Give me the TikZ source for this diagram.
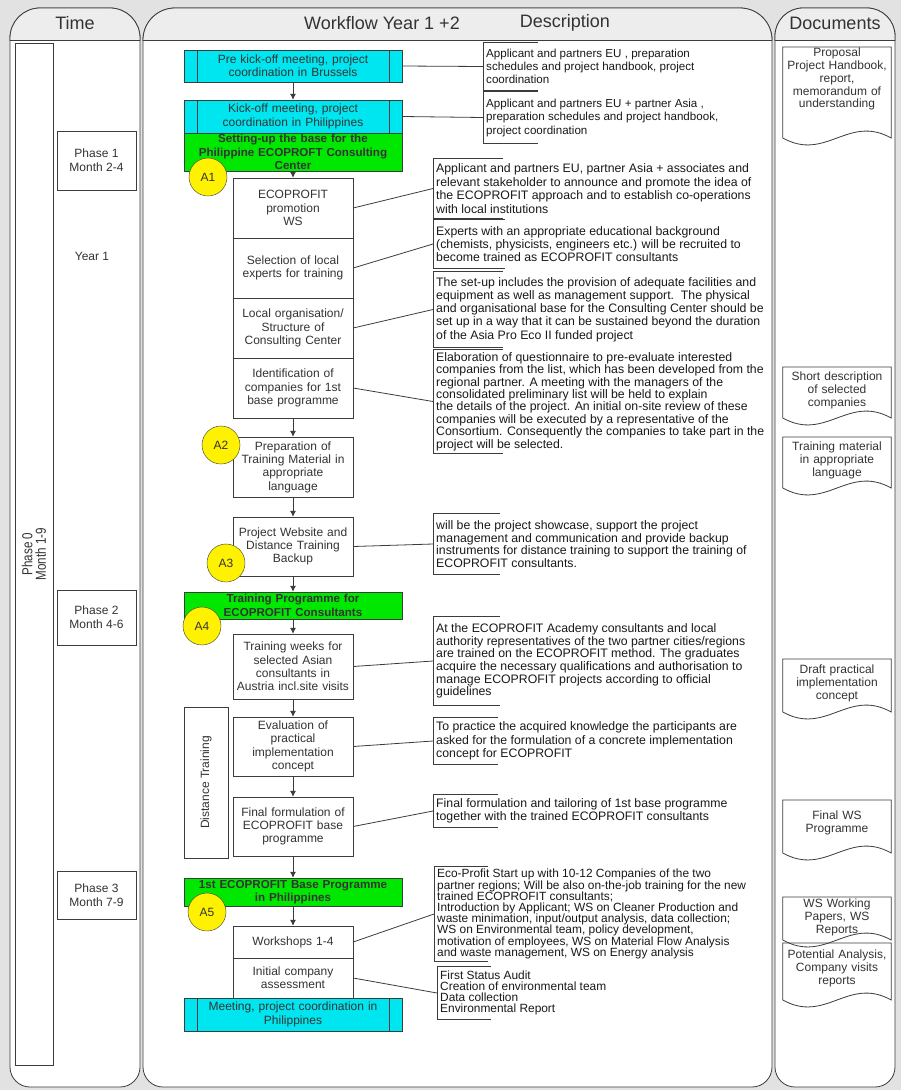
\documentclass[tikz,border=0pt]{standalone}
\usepackage{fontspec}
\setmainfont{Liberation Sans}
\newfontfamily\narrowfont[FakeStretch=0.8]{Liberation Sans}
\usetikzlibrary{positioning,arrows.meta}
\definecolor{proccyan}{RGB}{0,230,240}
\definecolor{stepgreen}{RGB}{0,232,0}
\definecolor{markyellow}{RGB}{255,242,0}
\definecolor{linegray}{RGB}{60,60,60}
\definecolor{paper}{RGB}{226,226,226}

\begin{document}
\begin{tikzpicture}[x=1pt, y=-1pt,
  every node/.style={font=\fontsize{12}{13.3}\selectfont, text=black!80},
  lane/.style={draw=linegray, line width=0.8pt},
  stepbox/.style={draw=linegray, fill=white, minimum width=120pt, inner sep=0pt, align=center, text width=118pt},
  procbox/.style={draw=linegray, fill=proccyan, minimum width=218pt, inner sep=0pt, align=center, text width=185pt},
  greenbox/.style={draw=linegray, fill=stepgreen, minimum width=218pt, inner sep=0pt, align=center, text width=215pt, font=\fontsize{11.6}{13.5}\selectfont\bfseries},
  phasebox/.style={draw=linegray, fill=white, minimum width=79pt, align=center, font=\fontsize{12}{14}\selectfont},
  marker/.style={circle, draw=linegray, fill=markyellow, minimum size=38pt, inner sep=0pt},
  desc/.style={anchor=west, align=left, inner xsep=3pt, inner ysep=0pt, text=black!90, font=\fontsize{12.3}{#1}\selectfont},
  desc/.default=13.3,
  docbox/.style={minimum width=108pt, text width=104pt, align=center, inner sep=2pt, font=\fontsize{12}{12.9}\selectfont},
  flow/.style={draw=linegray, line width=0.8pt, -{Latex[length=6pt,width=6pt]}},
  link/.style={draw=linegray, line width=0.8pt},
  brk/.style={draw=linegray, line width=0.8pt}
]
\useasboundingbox (0,0) rectangle (901,1090);
\fill[paper] (0,0) rectangle (901,1090);

% Swim lanes with header band
\foreach \xa/\xb/\r in {10/140/30, 143/772/32, 775/895/28} {
  \draw[lane, fill=white] (\xa,500) [rounded corners=\r pt] -- (\xa,8) -- (\xb,8) -- (\xb,500) [rounded corners=20pt] -- (\xb,1087) -- (\xa,1087) -- cycle;
  \begin{scope}
    \clip (\xa-2,0) rectangle (\xb+2,40);
    \draw[lane, fill=gray!14] (\xa,500) [rounded corners=\r pt] -- (\xa,8) -- (\xb,8) -- (\xb,500) -- cycle;
  \end{scope}
  \draw[lane] (\xa,40) -- (\xb,40);
}
\node[font=\fontsize{18}{20}\selectfont] (hTime) at (75,23) {Time};
\node[font=\fontsize{18}{20}\selectfont] (hFlow) at (382,23) {Workflow Year 1 +2};
\node[font=\fontsize{18}{20}\selectfont] (hDesc) at (565,23) {Description};
\node[font=\fontsize{18}{20}\selectfont] (hDocs) at (835,23) {Documents};

% Time column
\node[draw=linegray, fill=white, rotate=90, minimum width=1022pt, minimum height=38pt, align=center, font=\narrowfont\fontsize{14.5}{13.5}\selectfont] (ph0) at (34,554) {Phase 0\\Month 1-9};
\node[phasebox, minimum height=59pt] (ph1) at (96.5,160.5) {Phase 1\\Month 2-4};
\node (year) at (92,256) {Year 1};
\node[phasebox, minimum height=55pt] (ph2) at (96.5,617.5) {Phase 2\\Month 4-6};
\node[phasebox, minimum height=48pt] (ph3) at (96.5,895) {Phase 3\\Month 7-9};

% Workflow steps
\node[procbox, minimum height=32pt] (pre) at (293,66) {Pre kick-off meeting, project\\coordination in Brussels};
\node[procbox, minimum height=33pt] (kick) at (293,116.5) {Kick-off meeting, project\\coordination in Philippines};
\node[greenbox, minimum height=38pt] (setup) at (293,152) {Setting-up the base for the\\Philippine ECOPROFT Consulting\\Center};
\node[stepbox, minimum height=60pt] (promo) at (293,208) {ECOPROFIT\\promotion\\WS};
\node[stepbox, minimum height=60pt] (select) at (293,268) {Selection of local\\experts for training};
\node[stepbox, minimum height=60pt] (local) at (293,328) {Local organisation/\\Structure of\\Consulting Center};
\node[stepbox, minimum height=60pt] (ident) at (293,388) {Identification of\\companies for 1st\\base programme};
\node[stepbox, minimum height=60pt] (prep) at (293,467) {Preparation of\\Training Material in\\appropriate\\language};
\node[stepbox, minimum height=59pt] (web) at (293,546.5) {Project Website and\\Distance Training\\Backup};
\node[greenbox, minimum height=27pt] (train) at (293,605.5) {Training Programme for\\ECOPROFIT Consultants};
\node[stepbox, minimum height=65pt] (weeks) at (293,666.5) {Training weeks for\\selected Asian\\consultants in\\Austria incl.site visits};
\node[stepbox, minimum height=59pt] (eval) at (293,746.5) {Evaluation of\\practical\\implementation\\concept};
\node[stepbox, minimum height=59pt] (final) at (293,826.5) {Final formulation of\\ECOPROFIT base\\programme};
\node[greenbox, minimum height=28pt] (base) at (293,892) {1st ECOPROFIT Base Programme\\in Philippines};
\node[stepbox, minimum height=32pt] (ws) at (293,942) {Workshops 1-4};
\node[stepbox, minimum height=40pt] (assess) at (293,978) {Initial company\\assessment};
\node[procbox, minimum height=33pt] (meet) at (293,1014.5) {Meeting, project coordination in\\Philippines};
\node[draw=linegray, fill=white, rotate=90, minimum width=151pt, minimum height=44pt] (dist) at (206,782.5) {Distance Training};
% inner bars of the meeting boxes
\foreach \n in {pre,kick,meet} {
  \draw[brk] ([xshift=14pt]\n.north west) -- ([xshift=14pt]\n.south west);
  \draw[brk] ([xshift=-13pt]\n.north east) -- ([xshift=-13pt]\n.south east);
}

% Descriptions
\node[desc=13, minimum height=47pt, font=\fontsize{11.6}{13}\selectfont] (d1) at (483,66.5) {Applicant and partners EU , preparation\\schedules and project handbook, project\\coordination};
\node[desc=13.5, minimum height=51pt, font=\fontsize{11.6}{13.5}\selectfont] (d2) at (483,117.5) {Applicant and partners EU + partner Asia ,\\preparation schedules and project handbook,\\project coordination};
\node[desc=13.5, minimum height=59pt] (d3) at (433,188.5) {Applicant and partners EU, partner Asia + associates and\\relevant stakeholder to announce and promote the idea of\\the ECOPROFIT approach and to establish co-operations\\with local institutions};
\node[desc, minimum height=48pt] (d4) at (433,244) {Experts with an appropriate educational background\\(chemists, physicists, engineers etc.) will be recruited to\\become trained as ECOPROFIT consultants};
\node[desc, minimum height=75pt] (d5) at (433,309.5) {The set-up includes the provision of adequate facilities and\\equipment as well as management support.\ \ The physical\\and organisational base for the Consulting Center should be\\set up in a way that it can be sustained beyond the duration\\of the Asia Pro Eco II funded project};
\node[desc=12.4, minimum height=103pt] (d6) at (433,401.5) {Elaboration of questionnaire to pre-evaluate interested\\companies from the list, which has been developed from the\\regional partner. A meeting with the managers of the\\consolidated preliminary list will be held to explain\\the details of the project. An initial on-site review of these\\companies will be executed by a representative of the\\Consortium. Consequently the companies to take part in the\\project will be selected.};
\node[desc=12.4, minimum height=60pt] (d7) at (433,544) {will be the project showcase, support the project\\management and communication and provide backup\\instruments for distance training to support the training of\\ECOPROFIT consultants.};
\node[desc=12.7, minimum height=88pt] (d8) at (433,661) {At the ECOPROFIT Academy consultants and local\\authority representatives of the two partner cities/regions\\are trained on the ECOPROFIT method. The graduates\\acquire the necessary qualifications and authorisation to\\manage ECOPROFIT projects according to official\\guidelines};
\node[desc=13.8, minimum height=46pt] (d9) at (433,741) {To practice the acquired knowledge the participants are\\asked for the formulation of a concrete implementation\\concept for ECOPROFIT};
\node[desc, minimum height=32pt] (d10) at (433,811) {Final formulation and tailoring of 1st base programme\\together with the trained ECOPROFIT consultants};
\node[desc, minimum height=94pt, font=\fontsize{11.9}{11.2}\selectfont] (d11) at (434,914) {Eco-Profit Start up with 10-12 Companies of the two\\partner regions; Will be also on-the-job training for the new\\trained ECOPROFIT consultants;\\Introduction by Applicant; WS on Cleaner Production and\\waste minimation, input/output analysis, data collection;\\WS on Environmental team, policy development,\\motivation of employees, WS on Material Flow Analysis\\and waste management, WS on Energy analysis};
\node[desc, minimum height=52pt, font=\fontsize{11.9}{11.2}\selectfont] (d12) at (437,993) {First Status Audit\\Creation of environmental team\\Data collection\\Environmental Report};
\foreach \n/\l in {d1/55, d2/55, d3/70, d4/72, d5/70, d6/70, d7/67, d8/67, d9/65, d10/65, d11/54, d12/54} {
  \draw[brk] ([xshift=\l pt]\n.north west) -- (\n.north west) -- (\n.south west) -- ([xshift=\l pt]\n.south west);
}

% Documents
\node[docbox] (doc1) at (837,79) {Proposal\\Project Handbook,\\report,\\memorandum of\\understanding};
\node[docbox] (doc2) at (837,390) {Short description\\of selected\\companies};
\node[docbox] (doc3) at (837,460) {Training material\\in appropriate\\language};
\node[docbox] (doc4) at (837,683) {Draft practical\\implementation\\concept};
\node[docbox] (doc5) at (837,823) {Final WS\\Programme};
\node[docbox] (doc6) at (837,917) {WS Working\\Papers, WS\\Reports};
\node[docbox] (doc7) at (837,968) {Potential Analysis,\\Company visits\\reports};
\foreach \n/\t/\b in {doc1/47/138, doc2/367/418, doc3/437/488, doc4/659/712, doc5/800/853, doc6/897/940, doc7/943/1000} {
  \draw[brk] (\n.west |- 0,\b) -- (\n.west |- 0,\t) -- (\n.east |- 0,\t) -- (\n.east |- 0,\b) .. controls +(-43pt,24pt) and +(43pt,-24pt) .. (\n.west |- 0,\b);
}

% Flow arrows and description links
\foreach \a/\b in {pre/kick, setup/promo, ident/prep, prep/web, web/train, train/weeks, weeks/eval, eval/final, final/base, base/ws}
  \draw[flow] (\a) -- (\b);
\foreach \a/\b in {pre/d1, kick/d2, promo/d3, select/d4, local/d5, ident/d6, web/d7, weeks/d8, eval/d9, final/d10, ws/d11, assess/d12}
  \draw[link] (\a.east) -- (\b.west);

% Activity markers
\foreach \n/\x/\y in {1/208/177, 2/221/445, 3/226/563, 4/202/626, 5/207/912}
  \node[marker] (a\n) at (\x,\y) {A\n};
\end{tikzpicture}
\end{document}
